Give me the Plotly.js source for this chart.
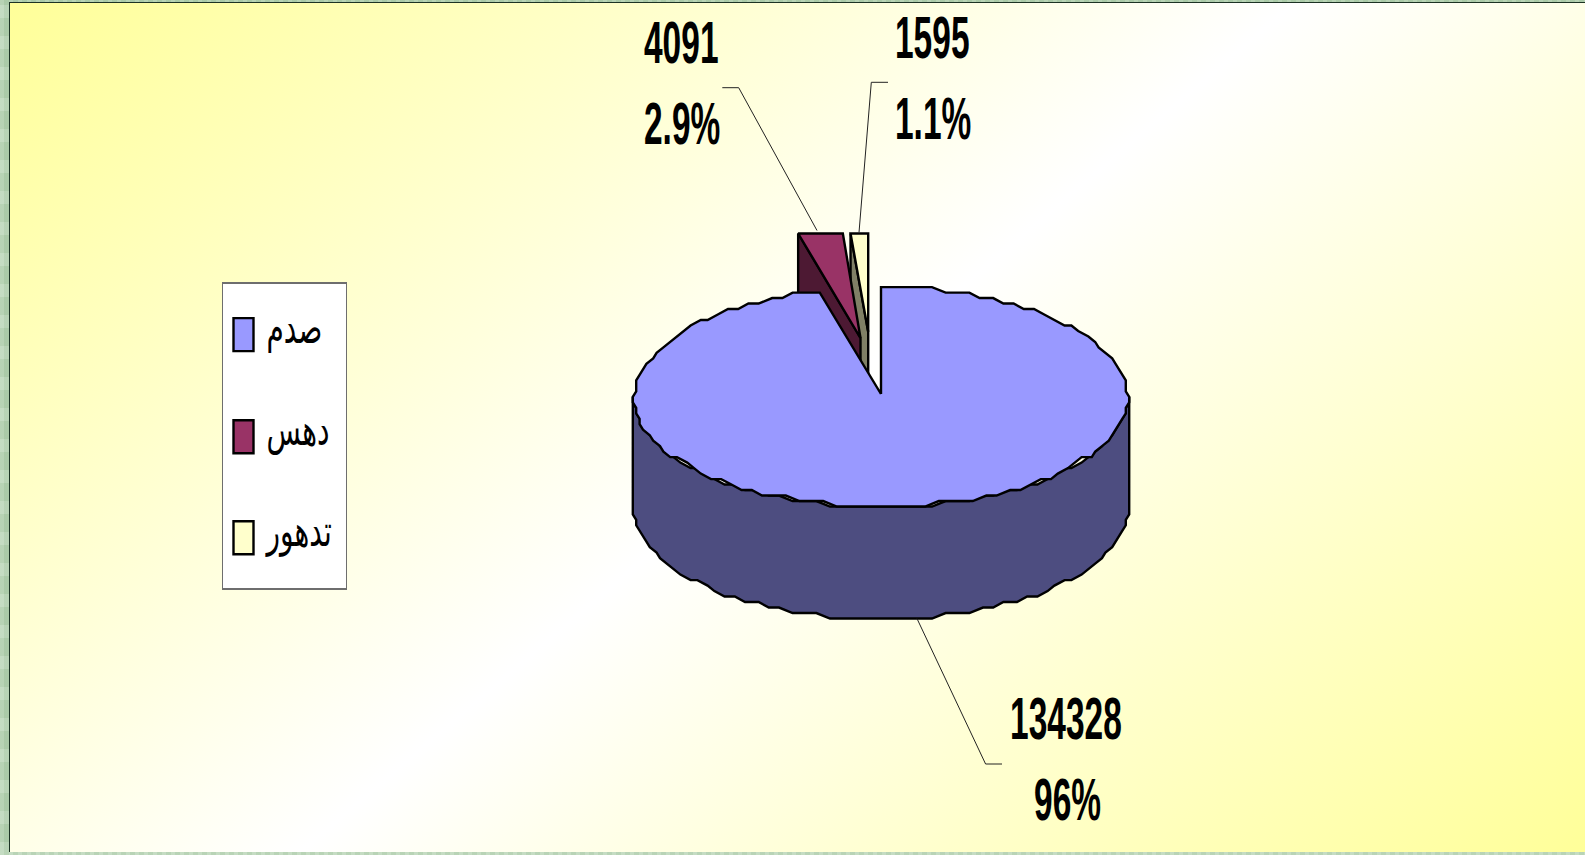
<!DOCTYPE html>
<html><head><meta charset="utf-8">
<script src="https://cdn.plot.ly/plotly-3.0.1.min.js"></script>
<style>
html,body{margin:0;padding:0;width:1585px;height:855px;overflow:hidden}
body{background:
 repeating-linear-gradient(90deg,rgba(255,255,255,.10) 0 4px,rgba(90,140,90,.06) 4px 9px),
 repeating-linear-gradient(0deg,rgba(255,255,255,.10) 0 13px,rgba(90,140,90,.08) 13px 31px),
 #b7d4b4}
#panel{position:absolute;left:9px;top:2px;width:1576px;height:850px;box-sizing:border-box;
 border-left:1.5px solid #1c3324;border-top:1.5px solid #1c3324;
 background:linear-gradient(139.5deg,#ffff99 0%,#ffffff 50%,#ffff99 100%)}
#chart{position:absolute;left:0;top:0;width:1585px;height:855px}
</style></head><body>
<div id="panel"></div><div id="chart"></div>
<script>
const categories=['صدم','دهس','تدهور'];
const counts=[134328,4091,1595];
const percentLabels=['96%','2.9%','1.1%'];
const faceColors=['#9999ff','#993366','#ffffcc'];
const wallColors=['#4d4d80','#4d1933','#808066'];

const cx=881, cy=396.8, rx=247, ry=109.7, depth=112, clipTop=233.5;
const apexShift=[[0,-2.8],[-20.5,-58.8],[-12.8,-65.1]];
const snapX=3.4, snapY=5.485, stepDeg=3;
const total=counts.reduce((a,b)=>a+b,0);
const rad=d=>d*Math.PI/180;
const snap=(v,q)=>Math.round(v/q)*q;
function rim(deg,ox,oy){
  return [cx+snap(rx*Math.sin(rad(deg)),snapX)+ox, cy+snap(-ry*Math.cos(rad(deg)),snapY)+oy];
}
function rimPath(a0,a1,ox,oy){
  const pts=[]; const n=Math.max(1,Math.ceil((a1-a0)/stepDeg));
  for(let i=0;i<=n;i++) pts.push(rim(a0+(a1-a0)*i/n,ox,oy));
  return pts;
}
let acc=0;
const slices=counts.map((v,i)=>{const a0=acc/total*360; acc+=v; return {a0,a1:acc/total*360,i};});

function scat(pts,name,fill,extra){
  return Object.assign({type:'scatter',mode:'lines',x:pts.map(p=>p[0]),y:pts.map(p=>p[1]),
    fill:'toself',fillcolor:fill,line:{color:'#000',width:2.4,shape:'linear'},
    hoverinfo:'skip',showlegend:false,name:name},extra||{});
}
const traces=[];
[2,1].forEach(i=>{
  const s=slices[i],ox=apexShift[i][0],oy=apexShift[i][1];
  const ax=cx+ox, ay=cy+oy;
  const clip=p=>[p[0],Math.max(p[1],clipTop)];
  const r0=clip([cx+ox+rx*Math.sin(rad(s.a0)),cy+oy-ry*Math.cos(rad(s.a0))]);
  const r1=clip([cx+ox+rx*Math.sin(rad(s.a1)),cy+oy-ry*Math.cos(rad(s.a1))]);
  traces.push(scat([r0,[ax,ay],[ax,ay+depth],[r0[0],r0[1]+depth],r0],categories[i]+' wall',wallColors[i]));
  traces.push(scat([[ax,ay],r0,r1,[ax,ay]],categories[i],faceColors[i],
    {showlegend:true,legendgroup:'g'+i,legendrank:i+1}));
});
const s=slices[0];
const wallBottom=rimPath(90,270,0,depth);
const wallTop=rimPath(90,270,0,0).reverse();
traces.push(scat(wallBottom.concat(wallTop,[wallBottom[0]]),categories[0]+' wall',wallColors[0]));
const apex=[cx+apexShift[0][0],cy+apexShift[0][1]];
traces.push(scat([apex].concat(rimPath(s.a0,s.a1,0,0),[apex]),categories[0],faceColors[0],
  {showlegend:true,legendgroup:'g0',legendrank:1}));

const leaders=[
 [[722.3,87.7],[738.7,87.7],[817,230.5]],
 [[888,82.3],[871.3,82.3],[859,232.5]],
 [[917,618.6],[985.6,764],[1002,764]]
];
leaders.forEach(l=>traces.push({type:'scatter',mode:'lines',x:l.map(p=>p[0]),y:l.map(p=>p[1]),
  line:{color:'#222',width:1},hoverinfo:'skip',showlegend:false}));

const font={family:'"Liberation Sans Narrow","Liberation Sans",Arial,sans-serif',size:33.5,color:'#000'};
const lab=(x,y,t)=>({x,y,text:'<b>'+t+'</b>',showarrow:false,xanchor:'left',yanchor:'middle',font,xref:'x',yref:'y',borderpad:0});
const annotations=[
 lab(643,42,String(counts[1])),lab(643,123,percentLabels[1]),
 lab(894,37,String(counts[2])),lab(894,118,percentLabels[2]),
 lab(1009,718,String(counts[0])),lab(1033,799,percentLabels[0])
];
const layout={width:1585,height:855,margin:{l:0,r:0,t:0,b:0},
 paper_bgcolor:'rgba(0,0,0,0)',plot_bgcolor:'rgba(0,0,0,0)',
 xaxis:{range:[0,1585],visible:false,fixedrange:true},
 yaxis:{range:[855,0],visible:false,fixedrange:true},
 showlegend:true,
 legend:{x:221.5/1585,y:1-282/855,xanchor:'left',yanchor:'top',bgcolor:'#ffffff',bordercolor:'#6e6e6e',borderwidth:1.5,
   font:{family:'"Liberation Sans","DejaVu Sans",sans-serif',size:28,color:'#000'},
   traceorder:'grouped',tracegroupgap:64,itemclick:false,itemdoubleclick:false,itemwidth:30},
 annotations};
Plotly.newPlot('chart',traces,layout,{displayModeBar:false}).then(()=>{
  document.querySelectorAll('.annotation-text-g text').forEach(t=>{
    const b=t.getBBox(); const c=b.y+b.height/2;
    t.setAttribute('transform','translate(0,'+c+') scale(1,1.75) translate(0,'+(-c)+')');
  });
  const box=document.querySelector('.legend');
  const bg=box.querySelector('rect.bg');
  bg.setAttribute('width',124); bg.setAttribute('height',306);
  const sb=box.querySelector('.scrollbox'); if(sb) sb.removeAttribute('clip-path');
  const centers=[52.6,154.7,255.8];
  box.querySelectorAll('.traces').forEach((tr,k)=>{
    tr.setAttribute('transform','translate(0,'+centers[k]+')');
    const grp=tr.parentNode; grp.setAttribute('transform','translate(0,0)');
    const f=tr.querySelector('.legendfill path');
    if(f){ f.setAttribute('d','M12,-16.5h20v33h-20z'); f.style.stroke='#000'; f.style.strokeWidth='2.4px'; f.removeAttribute('transform');}
    const l=tr.querySelector('.legendlines path'); if(l) l.style.display='none';
    const t=tr.querySelector('text.legendtext');
    if(t){
      t.setAttribute('x',45);
      t.setAttribute('y',0);
      const b=t.getBBox(); const c=b.y+b.height/2;
      t.setAttribute('transform','translate(0,3) translate(0,'+c+') scale(1,1.55) translate(0,'+(-c)+')');
    }
  });
});
</script></body></html>
